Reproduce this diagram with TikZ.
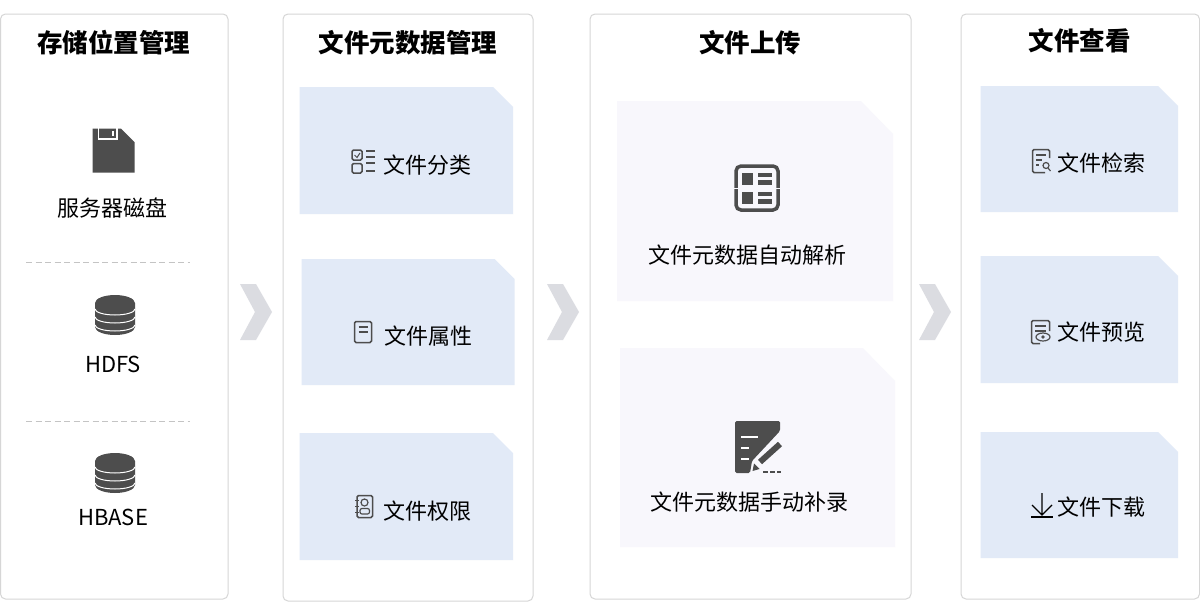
\documentclass[tikz,border=0pt]{standalone}
\usepackage{fontspec}
\setmainfont{Noto Sans CJK SC}
\definecolor{boxblue}{HTML}{E2EAF7}
\definecolor{boxpale}{HTML}{F8F7FC}
\definecolor{panelline}{HTML}{D6D6D6}
\definecolor{chevgray}{HTML}{DBDCE1}
\definecolor{icondark}{HTML}{4D4D4D}
\definecolor{dashgray}{HTML}{C4C4C4}
\tikzset{
	panel/.style={draw=panelline,fill=white,line width=1pt,rounded corners=5pt},
	title/.style={font=\fontsize{25.5}{28}\selectfont\bfseries,text=black,inner sep=0pt},
	label/.style={font=\fontsize{22}{26}\selectfont,text=black,inner sep=0pt},
	icon/.style={draw=icondark,line width=1.5pt,rounded corners=1.5pt},
	sepline/.style={draw=dashgray,line width=1.5pt,dash pattern=on 6pt off 3.5pt},
	pics/dbicon/.style={code={
		\fill[icondark] (-20,-12) arc[start angle=180,end angle=360,x radius=20,y radius=8]
			-- (20,12) arc[start angle=0,end angle=180,x radius=20,y radius=8] -- cycle;
		\foreach \y in {-6,2,10}{
			\draw[white,line width=1pt] (-20,\y) arc[start angle=180,end angle=0,x radius=20,y radius=6];}
	}},
}
\begin{document}
\begin{tikzpicture}[x=1pt,y=-1pt]
\useasboundingbox (0,0) rectangle (1200,616);
\fill[white] (0,0) rectangle (1200,616);
% panels
\foreach \xa/\xb/\yb in {0.5/228/599,283/533/601,590/911/599,961/1199.5/599}{
	\draw[panel] (\xa,14) rectangle (\xb,\yb);}
\node[title] (titleStore) at (114,43) {存储位置管理};
\node[title] (titleMeta) at (408,43) {文件元数据管理};
\node[title] (titleUpload) at (750,43) {文件上传};
\node[title] (titleView) at (1079.5,41) {文件查看};
% chevrons
\foreach \x in {240,547,919}{
	\fill[chevgray] (\x,284) -- (\x+16,284) -- (\x+32,312) -- (\x+16,340) -- (\x,340) -- (\x+15,312) -- cycle;}
% cut corner boxes
\foreach \xa/\xb/\ya/\yb in {299.5/513/87/214,301.5/514.5/259/385,299.5/513/433/560,980.5/1178/86/212,980.5/1178/256/383,980.5/1178/432/558}{
	\fill[boxblue] (\xa,\ya) -- (\xb-20,\ya) -- (\xb,\ya+20) -- (\xb,\yb) -- (\xa,\yb) -- cycle;}
\foreach \xa/\xb/\ya/\yb in {617/893/101/301,620/895/348/547}{
	\fill[boxpale] (\xa,\ya) -- (\xb-32,\ya) -- (\xb,\ya+33) -- (\xb,\yb) -- (\xa,\yb) -- cycle;}
% store column
\fill[icondark] (92.5,128.5) -- (121,128.5) -- (134.5,142) -- (134.5,172.5) -- (92.5,172.5) -- cycle;
\draw[white,line width=1.2pt] (98.5,128) -- (98.5,139) -- (117,139) -- (117,128);
\draw[white,line width=1.2pt] (113,131) -- (113,136);
\node[label] (diskText) at (112,208) {服务器磁盘};
\draw[sepline] (26,262.5) -- (190,262.5);
\pic at (115,315) {dbicon};
\node[label] (hdfsText) at (113,364) {HDFS};
\draw[sepline] (26,421.5) -- (190,421.5);
\pic at (115,473) {dbicon};
\node[label] (hbaseText) at (113,517) {HBASE};
% metadata column
\node[label] (classText) at (427,165) {文件分类};
\draw[icon] (352,150) rectangle (362,160);
\draw[icon] (352,163.5) rectangle (362,173);
\draw[icondark,line width=1pt] (354.5,155) -- (357,157.5) -- (360,153);
\foreach \y in {151,157,163,171}{
	\draw[icondark,line width=1.2pt] (366,\y) -- (375,\y);}
\node[label] (attrText) at (428.5,336) {文件属性};
\draw[icon] (354.5,321.5) rectangle (371.5,342.5);
\foreach \y in {327,332}{
	\draw[icondark,line width=1.2pt] (358.5,\y) -- (367.5,\y);}
\node[label] (permText) at (427,511) {文件权限};
\draw[icon] (357,495.5) rectangle (372.5,517.5);
\draw[icondark,line width=1.2pt] (364.5,502.5) circle (3.5);
\draw[icondark,line width=1.2pt,rounded corners=2pt] (360,508.5) rectangle (369.5,514);
\foreach \y in {500,506,512}{
	\draw[icondark,line width=1pt] (355,\y) -- (358.5,\y);}
% upload column
\draw[icondark,line width=3.5pt,rounded corners=5pt] (736,166) rectangle (778,210);
\draw[boxpale,line width=1pt] (733,188) -- (739,188) (775,188) -- (781,188);
\foreach \y in {173,192}{
	\fill[icondark] (742,\y) rectangle (753,\y+12);
	\fill[icondark] (758,\y) rectangle (772,\y+4);
	\fill[icondark] (758,\y+7) rectangle (772,\y+12);}
\node[label] (autoText) at (747.5,255) {文件元数据自动解析};
\fill[icondark,rounded corners=1.5pt] (735,421) -- (780,421) -- (780,431) -- (752,461) -- (750,473) -- (735,473) -- cycle;
\foreach \xb/\y in {758/437,749/448,749/459}{
	\draw[white,line width=1.5pt] (741,\y) -- (\xb,\y);}
\draw[icondark,line width=6pt] (760,462) -- (780,444);
\fill[icondark] (752.5,471) -- (754,463.5) -- (759.5,469) -- cycle;
\draw[icondark,line width=2pt,dash pattern=on 5pt off 2pt] (763,472) -- (781,472);
\node[label] (manualText) at (749.5,502) {文件元数据手动补录};
% view column
\node[label] (searchText) at (1101,163.5) {文件检索};
\draw[icon] (1045,172.5) -- (1032.5,172.5) -- (1032.5,149.5) -- (1049.5,149.5) -- (1049.5,158);
\foreach \y/\xb in {155/1046,160/1042,165/1039}{
	\draw[icondark,line width=1.2pt] (1036,\y) -- (\xb,\y);}
\draw[icondark,line width=1.2pt] (1046,165.5) circle (3);
\draw[icondark,line width=1.2pt] (1048,168) -- (1050.5,171);
\node[label] (previewText) at (1101,332.5) {文件预览};
\draw[icon] (1040,343.5) -- (1031.5,343.5) -- (1031.5,320.5) -- (1049.5,320.5) -- (1049.5,331);
\foreach \y in {326,331}{
	\draw[icondark,line width=1.2pt] (1035,\y) -- (1046,\y);}
\draw[icondark,line width=1.2pt] (1043,337) ellipse (7 and 4);
\fill[icondark] (1043,337) circle (1.8);
\node[label] (downText) at (1101,507.5) {文件下载};
\draw[black,line width=1.3pt] (1042,493) -- (1042,514.5) (1032,505) -- (1042,515) -- (1052,505);
\draw[black,line width=1.5pt] (1031,517) -- (1053,517);
\end{tikzpicture}
\end{document}
